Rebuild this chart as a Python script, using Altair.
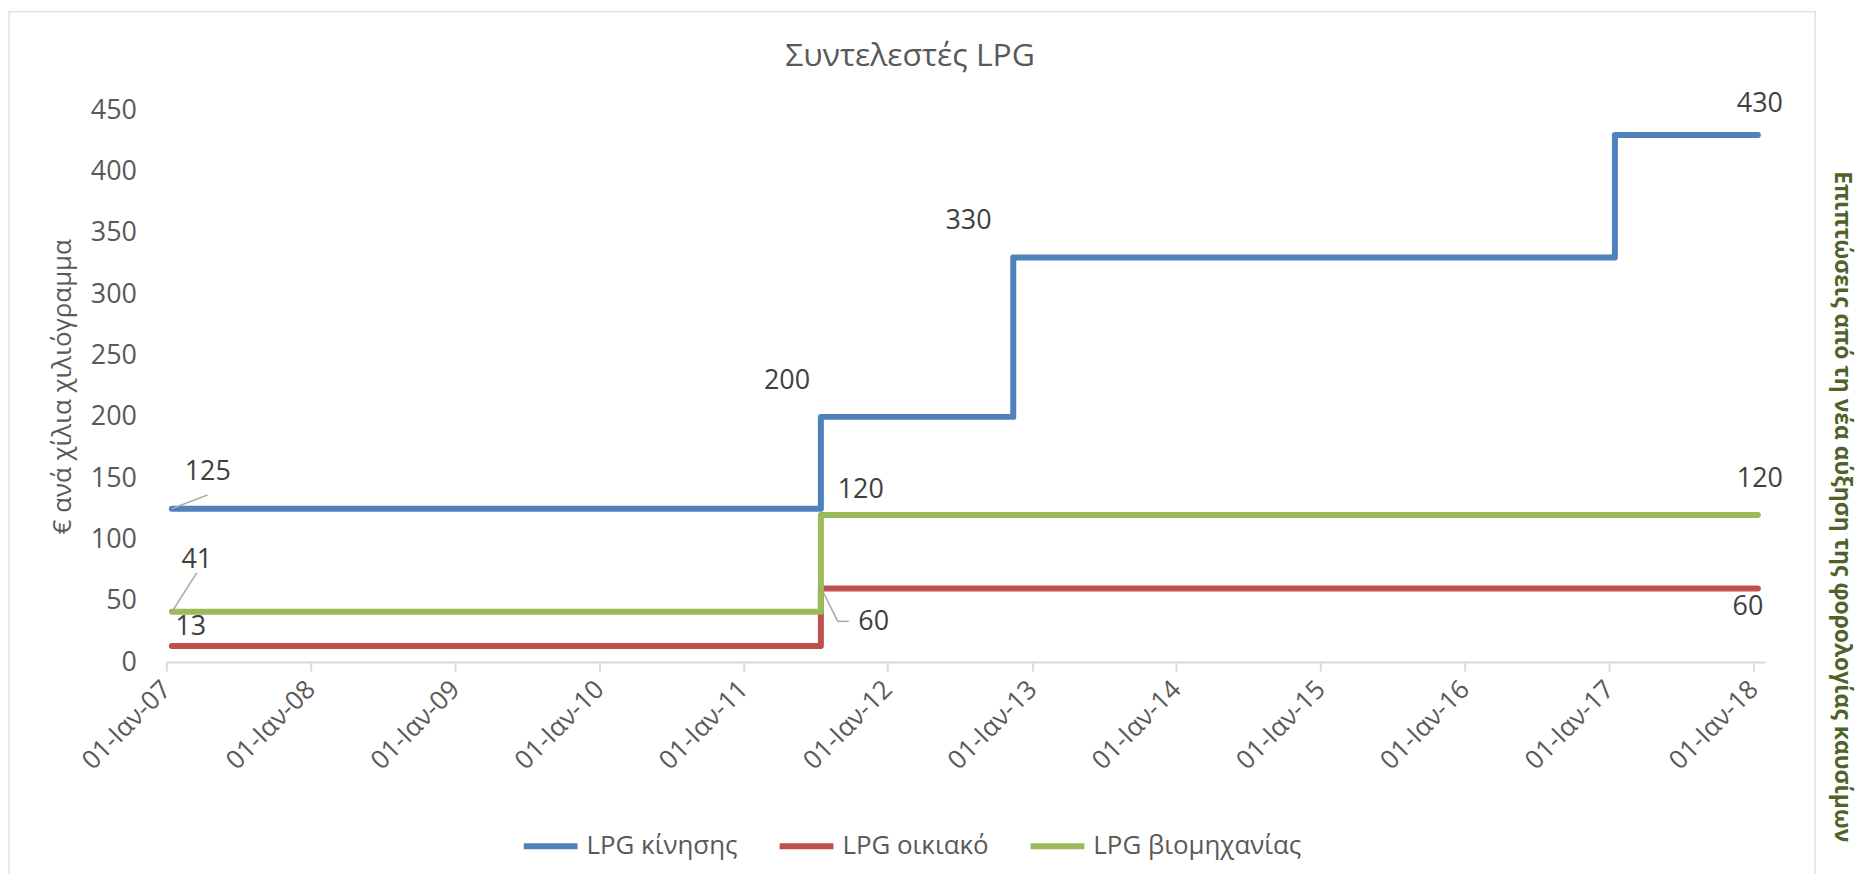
import altair as alt
import pandas as pd

# ---------------- data ----------------
series_names = ["LPG κίνησης", "LPG οικιακό", "LPG βιομηχανίας"]
series_colors = ["#4f81bd", "#c0504d", "#9bbb59"]

kinisis_dates = ["2007-01-15", "2011-07-16", "2012-11-14", "2017-01-15", "2018-01-12"]
kinisis_values = [125, 200, 330, 430, 430]

oikiako_dates = ["2007-01-15", "2011-07-16", "2018-01-12"]
oikiako_values = [13, 60, 60]

viomixanias_dates = ["2007-01-15", "2011-07-16", "2018-01-12"]
viomixanias_values = [41, 120, 120]

tick_years = list(range(2007, 2019))
y_ticks = list(range(0, 451, 50))

chart_title = "Συντελεστές LPG"
y_title = "€ ανά χίλια χιλιόγραμμα"
side_text = "Επιπτώσεις από τη νέα αύξηση της φορολογίας καυσίμων"

rows = []
for name, dates, vals in zip(series_names,
                             [kinisis_dates, oikiako_dates, viomixanias_dates],
                             [kinisis_values, oikiako_values, viomixanias_values]):
    for i, (d, v) in enumerate(zip(dates, vals)):
        rows.append({"series": name, "date": d, "value": v, "idx": i})
df = pd.DataFrame(rows)

# ---------------- encodings ----------------
FONT = "Open Sans"
x_scale = alt.Scale(type="utc",
                    domain=[alt.DateTime(year=2007, month=1, date=1, utc=True),
                            alt.DateTime(year=2018, month=1, date=31, utc=True)])
y_scale = alt.Scale(domain=[0, 450], nice=False)

x_axis = alt.Axis(
    values=[alt.DateTime(year=y, month=1, date=1, utc=True) for y in tick_years],
    labelExpr="'01-Ιαν-' + utcFormat(datum.value, '%y')",
    labelAngle=-45, labelAlign="right", labelBaseline="middle",
    labelFontSize=26, labelColor="#595959", labelFont=FONT, labelPadding=14,
    labelOverlap=False, labelBound=False, labelFlush=False,
    domainColor="#d9d9d9", domainWidth=2, tickColor="#d9d9d9", tickWidth=2,
    tickSize=9, grid=False, title=None,
)
y_axis = alt.Axis(
    values=y_ticks, domain=False, ticks=False, grid=False,
    labelFontSize=27, labelColor="#595959", labelFont=FONT, labelPadding=30,
    title=y_title, titleFontSize=26, titleFontWeight="normal", titleColor="#595959",
    titleFont=FONT, titleAngle=-90, titleX=-104, titleY=277,
    titleAlign="center", titleBaseline="middle",
)

color = alt.Color(
    "series:N",
    scale=alt.Scale(domain=series_names, range=series_colors),
    legend=alt.Legend(
        title=None, orient="none", direction="horizontal", columns=3,
        legendX=356, legendY=709, symbolType="stroke", symbolSize=2916,
        symbolStrokeWidth=6, labelFontSize=26, labelColor="#595959",
        labelFont=FONT, labelOffset=6, columnPadding=30, padding=0,
        labelLimit=400,
    ),
)

base = alt.Chart(df)

lines = []
for name in series_names:
    lines.append(
        base.transform_filter(alt.datum.series == name)
        .mark_line(strokeWidth=6, interpolate="step-after", strokeCap="round", strokeJoin="round")
        .encode(
            x=alt.X("date:T", scale=x_scale, axis=x_axis),
            y=alt.Y("value:Q", scale=y_scale, axis=y_axis),
            color=color,
        )
    )

# label placement: (series index, point index, dx, dy, leader segments)
label_specs = [
    (0, 0, 36, -37, [(0, 0, 36, -14)]),
    (0, 1, -34, -36, []),
    (0, 2, -45, -37, []),
    (0, 4, 2, -31, []),
    (1, 0, 19, -19, []),
    (1, 1, 53, 34, [(1, 1, 17, 33), (17, 33, 28, 33)]),
    (1, 2, -10, 19, []),
    (2, 0, 25, -52, [(0, 0, 25, -39)]),
    (2, 1, 40, -25, []),
    (2, 2, 2, -36, []),
]

labels = []
for s, i, dx, dy, leaders in label_specs:
    sel = base.transform_filter(
        (alt.datum.series == series_names[s]) & (alt.datum.idx == i)
    )
    for (x1, y1, x2, y2) in leaders:
        labels.append(
            sel.mark_rule(color="#a6a6a6", strokeWidth=1.5,
                          xOffset=x1, yOffset=y1, x2Offset=x2, y2Offset=y2)
            .encode(x="date:T", x2="date:T", y="value:Q", y2="value:Q")
        )
    labels.append(
        sel.mark_text(dx=dx, dy=dy, fontSize=27, font=FONT, color="#404040",
                      align="center", baseline="middle")
        .encode(x="date:T", y="value:Q", text="value:Q")
    )

deco = alt.Chart(pd.DataFrame({"t": [side_text], "title": [chart_title]}))
border = deco.mark_rect(fillOpacity=0, stroke="#e3e3e3", strokeWidth=1.5).encode(
    x=alt.value(-158), y=alt.value(-99), x2=alt.value(1656), y2=alt.value(900)
)
title_mark = deco.mark_text(align="center", baseline="middle", fontSize=32,
                            font=FONT, color="#595959").encode(
    x=alt.value(747), y=alt.value(-55), text="title:N"
)
side = deco.mark_text(angle=90, align="left", baseline="middle", fontSize=23,
                      fontWeight="bold", font=FONT, color="#4f6228").encode(
    x=alt.value(1683), y=alt.value(61), text="t:N"
)

chart = alt.layer(border, *lines, *labels, title_mark, side).properties(
    width=1606, height=554,
    padding={"left": 159, "top": 101, "right": 93, "bottom": 211},
    autosize=alt.AutoSizeParams(type="none"),
).configure(background="white").configure_view(stroke=None)

chart.save("out.html", embed_options={"renderer": "svg", "actions": False})
